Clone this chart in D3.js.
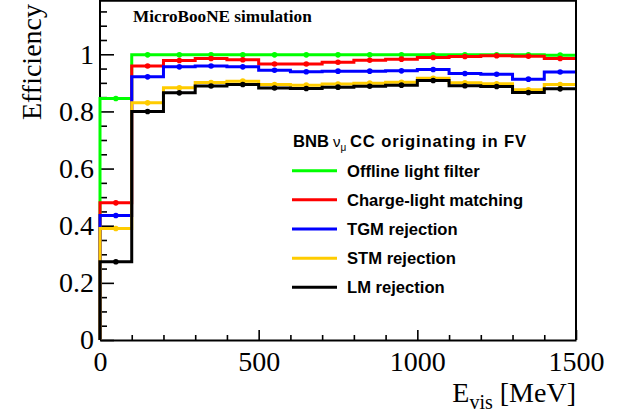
<!DOCTYPE html>
<html><head><meta charset="utf-8">
<script src="https://cdn.jsdelivr.net/npm/d3@7"></script>
<style>body{margin:0;background:#fff} svg{display:block}</style>
</head><body>
<svg id="c" width="639" height="415"></svg>
<script>
// ---- data ----
const binEdges = [0,100,200,300,400,500,600,700,800,900,1000,1100,1200,1300,1400,1500];
const offlineLight = [0.845,0.998,0.998,0.998,0.998,0.998,0.998,0.998,0.998,0.998,0.998,0.998,0.998,0.998,0.997];
const chargeLight  = [0.480,0.959,0.978,0.985,0.981,0.966,0.966,0.972,0.979,0.983,0.989,0.992,0.995,0.993,0.985];
const tgmRej       = [0.436,0.921,0.956,0.959,0.956,0.944,0.939,0.941,0.941,0.942,0.947,0.933,0.930,0.913,0.938];
const stmRej       = [0.390,0.830,0.883,0.901,0.906,0.894,0.892,0.896,0.899,0.902,0.916,0.900,0.897,0.876,0.894];
const lmRej        = [0.274,0.800,0.865,0.889,0.894,0.882,0.880,0.885,0.888,0.892,0.908,0.890,0.887,0.866,0.879];
const seriesNames  = ["Offline light filter","Charge-light matching","TGM rejection","STM rejection","LM rejection"];
const seriesColors = ["#00ff00","#ff0000","#0000ff","#ffcc00","#000000"];
const seriesValues = [offlineLight, chargeLight, tgmRej, stmRej, lmRej];
const xMajorTicks = [0,500,1000,1500];
const xMinorTicks = [100,200,300,400,600,700,800,900,1100,1200,1300,1400];
const yMajorTicks = [0,0.2,0.4,0.6,0.8,1];
const yMinorTicks = [0.05,0.1,0.15,0.25,0.3,0.35,0.45,0.5,0.55,0.65,0.7,0.75,0.85,0.9,0.95,1.05,1.1,1.15];

const svg = d3.select("#c");
const x = d3.scaleLinear().domain([0,1500]).range([100,576]);
const y = d3.scaleLinear().domain([0,1.19]).range([340,0]);
const serif = "'Liberation Serif','DejaVu Serif',serif";
const sans = "'Liberation Sans',Arial,sans-serif";

// axes
function styleAxis(g, labels){
  g.select(".domain").attr("stroke","#000").attr("stroke-width",2);
  g.selectAll(".tick line").attr("stroke","#000").attr("stroke-width",1.6);
  g.selectAll(".tick text").attr("font-family",serif).attr("font-size",28).attr("fill","#000");
  if(!labels) g.selectAll(".tick text").remove();
}
const yAx = svg.append("g").attr("transform","translate(100,0)")
  .call(d3.axisLeft(y).tickValues(yMajorTicks).tickSize(-14).tickSizeOuter(0).tickPadding(6).tickFormat(d3.format("~g")));
styleAxis(yAx,true);
yAx.select(".domain").attr("d","M0,340V0");
const yAxm = svg.append("g").attr("transform","translate(100,0)")
  .call(d3.axisLeft(y).tickValues(yMinorTicks).tickSize(-7).tickSizeOuter(0));
styleAxis(yAxm,false); yAxm.select(".domain").remove();

const xAx = svg.append("g").attr("transform","translate(0,340)")
  .call(d3.axisBottom(x).tickValues(xMajorTicks).tickSize(-10).tickSizeOuter(0).tickPadding(11).tickFormat(d3.format("d")));
styleAxis(xAx,true);
const xAxm = svg.append("g").attr("transform","translate(0,340)")
  .call(d3.axisBottom(x).tickValues(xMinorTicks).tickSize(-5).tickSizeOuter(0));
styleAxis(xAxm,false); xAxm.select(".domain").remove();

// histograms
const line = d3.line().x(d=>x(d[0])).y(d=>y(d[1])).curve(d3.curveStepAfter);
seriesValues.forEach((vals,si)=>{
  const pts = [[binEdges[0],0]];
  vals.forEach((v,i)=>pts.push([binEdges[i],v]));
  pts.push([binEdges[binEdges.length-1], vals[vals.length-1]]);
  svg.append("path").attr("d",line(pts)).attr("fill","none")
    .attr("stroke",seriesColors[si]).attr("stroke-width",3).attr("stroke-linejoin","miter");
  svg.append("g").selectAll("circle").data(vals).join("circle")
    .attr("cx",(v,i)=>x((binEdges[i]+binEdges[i+1])/2)).attr("cy",v=>y(v)).attr("r",2.8)
    .attr("fill",seriesColors[si]);
});

// frame top & right
svg.append("path").attr("d","M100,0.8H576V340").attr("fill","none").attr("stroke","#000").attr("stroke-width",2);

// titles
svg.append("text").attr("transform","translate(41,4) rotate(-90)").attr("text-anchor","end")
  .attr("font-family",serif).attr("font-size",28).text("Efficiency");
const xt = svg.append("text").attr("x",576).attr("y",402).attr("text-anchor","end")
  .attr("font-family",serif).attr("font-size",28);
xt.append("tspan").text("E");
xt.append("tspan").attr("font-size",20).attr("dy",7).text("vis");
xt.append("tspan").attr("dy",-7).text(" [MeV]");

svg.append("text").attr("x",133).attr("y",22).attr("font-family",serif).attr("font-weight","bold")
  .attr("font-size",17.2).text("MicroBooNE simulation");

// legend
const lt = svg.append("text").attr("y",146.5).attr("font-family",sans)
  .attr("font-weight","bold").attr("font-size",16.6);
lt.append("tspan").attr("x",293).text("BNB");
lt.append("tspan").attr("x",333).attr("font-weight","normal").attr("font-size",15).text("ν");
lt.append("tspan").attr("font-weight","normal").attr("font-size",10).attr("dy",4).text("μ");
lt.append("tspan").attr("x",350).attr("dy",-4).attr("textLength",176).attr("lengthAdjust","spacing").text("CC originating in FV");
seriesNames.forEach((n,i)=>{
  const yy = 170.7 + i*29.15;
  svg.append("line").attr("x1",292).attr("x2",337).attr("y1",yy).attr("y2",yy)
    .attr("stroke",seriesColors[i]).attr("stroke-width",3);
  svg.append("text").attr("x",347).attr("y",yy+6).attr("font-family",sans)
    .attr("font-weight","bold").attr("font-size",16.6).text(n);
});
</script>
</body></html>
